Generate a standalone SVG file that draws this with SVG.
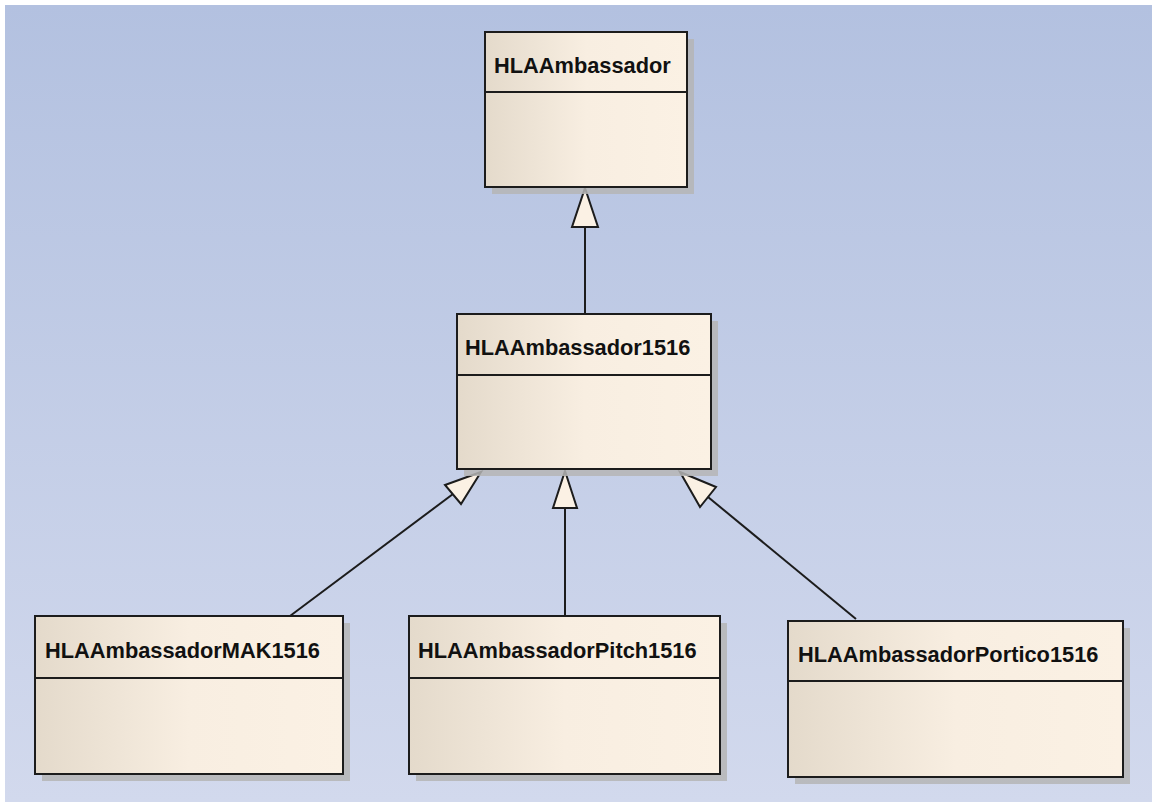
<svg xmlns="http://www.w3.org/2000/svg" width="1152" height="802" viewBox="0 0 1152 802">
<defs>
<linearGradient id="bg" x1="0" y1="0" x2="0" y2="1">
<stop offset="0" stop-color="#b3c1e0"/>
<stop offset="1" stop-color="#d2d9ed"/>
</linearGradient>
<linearGradient id="nf" x1="0" y1="0" x2="1" y2="0">
<stop offset="0" stop-color="#e4dacb"/>
<stop offset="0.5" stop-color="#f8eee1"/>
<stop offset="1" stop-color="#fbf1e4"/>
</linearGradient>
<style>
.sh{fill:#b5b5b5;opacity:0.85}
.box{fill:url(#nf);stroke:#1c1c1c;stroke-width:2}
.div{stroke:#1c1c1c;stroke-width:2}
.t{font-family:"Liberation Sans",Arial,sans-serif;font-weight:bold;font-size:21.8px;fill:#111}
.ln{stroke:#1c1c1c;stroke-width:2;fill:none}
.ah{fill:#fbf1e4;stroke:#1c1c1c;stroke-width:2;stroke-linejoin:miter}
</style>
</defs>
<rect x="0" y="0" width="1152" height="802" fill="#ffffff"/>
<rect x="5" y="5" width="1147" height="797" fill="url(#bg)"/>

<g id="connectors">
<line class="ln" x1="585" y1="314" x2="585" y2="227"/>
<polygon class="ah" points="585,188 598,227 572,227"/>
<line class="ln" x1="565" y1="616" x2="565" y2="508"/>
<polygon class="ah" points="565,471 577,508 553,508"/>
<line class="ln" x1="290" y1="616" x2="453" y2="494"/>
<polygon class="ah" points="481,472 461,504 445,485"/>
<line class="ln" x1="856" y1="619" x2="708" y2="497"/>
<polygon class="ah" points="680,472 716,487 700,507"/>
</g>

<g id="HLAAmbassador">
<rect class="sh" x="492" y="39" width="202" height="155"/>
<rect class="box" x="485" y="32" width="202" height="155"/>
<line class="div" x1="485" y1="92" x2="687" y2="92"/>
<text class="t" x="494" y="73">HLAAmbassador</text>
</g>

<g id="HLAAmbassador1516">
<rect class="sh" x="464" y="321" width="254" height="155"/>
<rect class="box" x="457" y="314" width="254" height="155"/>
<line class="div" x1="457" y1="375" x2="711" y2="375"/>
<text class="t" x="465" y="355">HLAAmbassador1516</text>
</g>

<g id="HLAAmbassadorMAK1516">
<rect class="sh" x="42" y="623" width="308" height="158"/>
<rect class="box" x="35" y="616" width="308" height="158"/>
<line class="div" x1="35" y1="678" x2="343" y2="678"/>
<text class="t" x="45" y="658">HLAAmbassadorMAK1516</text>
</g>

<g id="HLAAmbassadorPitch1516">
<rect class="sh" x="416" y="623" width="311" height="158"/>
<rect class="box" x="409" y="616" width="311" height="158"/>
<line class="div" x1="409" y1="678" x2="720" y2="678"/>
<text class="t" x="418" y="658">HLAAmbassadorPitch1516</text>
</g>

<g id="HLAAmbassadorPortico1516">
<rect class="sh" x="795" y="628" width="335" height="156"/>
<rect class="box" x="788" y="621" width="335" height="156"/>
<line class="div" x1="788" y1="681" x2="1123" y2="681"/>
<text class="t" x="798" y="662">HLAAmbassadorPortico1516</text>
</g>
</svg>
